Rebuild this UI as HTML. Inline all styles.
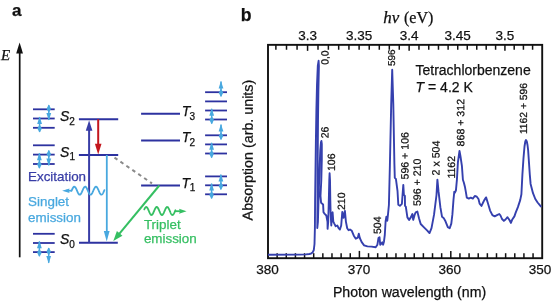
<!DOCTYPE html><html><head><meta charset="utf-8"><style>html,body{margin:0;padding:0;background:#fff;}svg{display:block;will-change:transform;}text{font-family:"Liberation Sans",sans-serif;}.sf{font-family:"Liberation Serif",serif;}</style></head><body>
<svg width="553" height="302" viewBox="0 0 553 302">
<rect width="553" height="302" fill="#fff"/>
<text x="12" y="15.5" font-size="17" font-weight="bold" fill="#111" stroke="#111" stroke-width="0.25">a</text>
<text x="240.8" y="20.6" font-size="17.6" font-weight="bold" fill="#111" stroke="#111" stroke-width="0.25">b</text>
<line x1="19.7" y1="257.3" x2="19.7" y2="52" stroke="#111" stroke-width="1.7"/>
<polygon points="19.6,42.4 16.2,53.6 23,53.6" fill="#111"/>
<text class="sf" x="1.1" y="60.0" font-size="15" font-style="italic" fill="#111" stroke="#111" stroke-width="0.25">E</text>
<line x1="33" y1="109.3" x2="54.7" y2="109.3" stroke="#2d32a0" stroke-width="1.8"/>
<line x1="33" y1="118.5" x2="54.7" y2="118.5" stroke="#2d32a0" stroke-width="1.8"/>
<line x1="33" y1="127.8" x2="54.7" y2="127.8" stroke="#2d32a0" stroke-width="1.8"/>
<line x1="33" y1="145.3" x2="54.7" y2="145.3" stroke="#2d32a0" stroke-width="1.8"/>
<line x1="33" y1="154.6" x2="54.7" y2="154.6" stroke="#2d32a0" stroke-width="1.8"/>
<line x1="33" y1="164.0" x2="54.7" y2="164.0" stroke="#2d32a0" stroke-width="1.8"/>
<line x1="33" y1="233.8" x2="54.7" y2="233.8" stroke="#2d32a0" stroke-width="1.8"/>
<line x1="33" y1="243.0" x2="54.7" y2="243.0" stroke="#2d32a0" stroke-width="1.8"/>
<line x1="33" y1="252.1" x2="54.7" y2="252.1" stroke="#2d32a0" stroke-width="1.8"/>
<g fill="#48a8df">
<polygon points="48.8,120.60 46.4,113.10 51.199999999999996,113.10"/>
<rect x="48.05" y="105.20" width="1.5" height="14.80"/>
<polygon points="48.8,112.70 51.099999999999994,108.70 48.8,104.60 46.5,108.70"/>
</g>
<g fill="#48a8df">
<polygon points="39.6,116.50 37.2,124.00 42.0,124.00"/>
<rect x="38.85" y="117.10" width="1.5" height="14.80"/>
<polygon points="39.6,124.40 41.9,128.40 39.6,132.50 37.300000000000004,128.40"/>
</g>
<g fill="#48a8df">
<polygon points="39.4,152.70 37.0,160.20 41.8,160.20"/>
<rect x="38.65" y="153.30" width="1.5" height="14.80"/>
<polygon points="39.4,160.60 41.699999999999996,164.60 39.4,168.70 37.1,164.60"/>
</g>
<g fill="#48a8df">
<polygon points="48.8,165.90 46.4,158.40 51.199999999999996,158.40"/>
<rect x="48.05" y="150.50" width="1.5" height="14.80"/>
<polygon points="48.8,158.00 51.099999999999994,154.00 48.8,149.90 46.5,154.00"/>
</g>
<g fill="#48a8df">
<polygon points="39.4,240.80 37.0,248.30 41.8,248.30"/>
<rect x="38.65" y="241.40" width="1.5" height="14.80"/>
<polygon points="39.4,248.70 41.699999999999996,252.70 39.4,256.80 37.1,252.70"/>
</g>
<g fill="#48a8df">
<polygon points="48.7,263.40 46.300000000000004,255.90 51.1,255.90"/>
<rect x="47.95" y="248.00" width="1.5" height="14.80"/>
<polygon points="48.7,255.50 51.0,251.50 48.7,247.40 46.400000000000006,251.50"/>
</g>
<line x1="205.1" y1="92.2" x2="227" y2="92.2" stroke="#2d32a0" stroke-width="1.8"/>
<line x1="205.1" y1="101.4" x2="227" y2="101.4" stroke="#2d32a0" stroke-width="1.8"/>
<line x1="205.1" y1="110.5" x2="227" y2="110.5" stroke="#2d32a0" stroke-width="1.8"/>
<line x1="205.1" y1="119.5" x2="227" y2="119.5" stroke="#2d32a0" stroke-width="1.8"/>
<line x1="205.1" y1="135.3" x2="227" y2="135.3" stroke="#2d32a0" stroke-width="1.8"/>
<line x1="205.1" y1="144.4" x2="227" y2="144.4" stroke="#2d32a0" stroke-width="1.8"/>
<line x1="205.1" y1="153.5" x2="227" y2="153.5" stroke="#2d32a0" stroke-width="1.8"/>
<line x1="205.1" y1="176.4" x2="227" y2="176.4" stroke="#2d32a0" stroke-width="1.8"/>
<line x1="205.1" y1="185.3" x2="227" y2="185.3" stroke="#2d32a0" stroke-width="1.8"/>
<line x1="205.1" y1="194.3" x2="227" y2="194.3" stroke="#2d32a0" stroke-width="1.8"/>
<g fill="#48a8df">
<polygon points="221.0,80.90 218.6,88.40 223.4,88.40"/>
<rect x="220.25" y="81.50" width="1.5" height="14.80"/>
<polygon points="221.0,88.80 223.3,92.80 221.0,96.90 218.7,92.80"/>
</g>
<g fill="#48a8df">
<polygon points="211.7,108.20 209.29999999999998,115.70 214.1,115.70"/>
<rect x="210.95" y="108.80" width="1.5" height="14.80"/>
<polygon points="211.7,116.10 214.0,120.10 211.7,124.20 209.39999999999998,120.10"/>
</g>
<g fill="#48a8df">
<polygon points="221.0,124.00 218.6,131.50 223.4,131.50"/>
<rect x="220.25" y="124.60" width="1.5" height="14.80"/>
<polygon points="221.0,131.90 223.3,135.90 221.0,140.00 218.7,135.90"/>
</g>
<g fill="#48a8df">
<polygon points="211.6,142.20 209.2,149.70 214.0,149.70"/>
<rect x="210.85" y="142.80" width="1.5" height="14.80"/>
<polygon points="211.6,150.10 213.9,154.10 211.6,158.20 209.29999999999998,154.10"/>
</g>
<g fill="#48a8df">
<polygon points="220.9,174.00 218.5,181.50 223.3,181.50"/>
<rect x="220.15" y="174.60" width="1.5" height="14.80"/>
<polygon points="220.9,181.90 223.20000000000002,185.90 220.9,190.00 218.6,185.90"/>
</g>
<g fill="#48a8df">
<polygon points="211.6,183.00 209.2,190.50 214.0,190.50"/>
<rect x="210.85" y="183.60" width="1.5" height="14.80"/>
<polygon points="211.6,190.90 213.9,194.90 211.6,199.00 209.29999999999998,194.90"/>
</g>
<line x1="78.9" y1="119.2" x2="118.2" y2="119.2" stroke="#2d32a0" stroke-width="2"/>
<line x1="78.9" y1="155.0" x2="118.2" y2="155.0" stroke="#2d32a0" stroke-width="2"/>
<line x1="79" y1="242.7" x2="117.8" y2="242.7" stroke="#2d32a0" stroke-width="2"/>
<line x1="141.1" y1="113.8" x2="180" y2="113.8" stroke="#2d32a0" stroke-width="2"/>
<line x1="141.1" y1="140.5" x2="180" y2="140.5" stroke="#2d32a0" stroke-width="2"/>
<line x1="141.1" y1="185.4" x2="180" y2="185.4" stroke="#2d32a0" stroke-width="2"/>
<text x="60.0" y="121.1" font-size="14" font-style="italic" fill="#111" stroke="#111" stroke-width="0.25">S</text>
<text x="69.3" y="124.9" font-size="10" fill="#111" stroke="#111" stroke-width="0.25">2</text>
<text x="60.0" y="156.6" font-size="14" font-style="italic" fill="#111" stroke="#111" stroke-width="0.25">S</text>
<text x="69.6" y="160.4" font-size="10" fill="#111" stroke="#111" stroke-width="0.25">1</text>
<text x="60.0" y="244.1" font-size="14" font-style="italic" fill="#111" stroke="#111" stroke-width="0.25">S</text>
<text x="69.3" y="247.8" font-size="10" fill="#111" stroke="#111" stroke-width="0.25">0</text>
<text x="181.8" y="115.6" font-size="14" font-style="italic" fill="#111" stroke="#111" stroke-width="0.25">T</text>
<text x="189.6" y="119.5" font-size="10" fill="#111" stroke="#111" stroke-width="0.25">3</text>
<text x="181.8" y="142.1" font-size="14" font-style="italic" fill="#111" stroke="#111" stroke-width="0.25">T</text>
<text x="189.6" y="146.0" font-size="10" fill="#111" stroke="#111" stroke-width="0.25">2</text>
<text x="181.6" y="187.6" font-size="14" font-style="italic" fill="#111" stroke="#111" stroke-width="0.25">T</text>
<text x="189.8" y="190.7" font-size="10" fill="#111" stroke="#111" stroke-width="0.25">1</text>
<line x1="89.1" y1="242.7" x2="89.1" y2="128" stroke="#383da6" stroke-width="2"/>
<polygon points="89.1,120.2 85.8,130.8 92.4,130.8" fill="#383da6"/>
<line x1="98.2" y1="119.2" x2="98.2" y2="146" stroke="#c3161d" stroke-width="2"/>
<polygon points="98.2,154.6 94.9,143.8 101.5,143.8" fill="#c3161d"/>
<line x1="106.8" y1="155" x2="106.8" y2="233" stroke="#48a8df" stroke-width="1.8"/>
<polygon points="106.7,241.6 103.8,231 109.6,231" fill="#48a8df"/>
<line x1="114.5" y1="157.6" x2="152" y2="183.4" stroke="#8a8a8a" stroke-width="2" stroke-dasharray="3.6 3.6"/>
<line x1="159.3" y1="185.5" x2="119.04" y2="234.17" stroke="#35bf62" stroke-width="2"/>
<polygon points="113.3,241.1 116.90,231.10 122.45,235.69" fill="#35bf62"/>
<polyline points="71.60,190.70 71.85,190.12 72.10,189.56 72.35,189.01 72.60,188.51 72.85,188.05 73.10,187.64 73.35,187.30 73.60,187.03 73.85,186.84 74.10,186.73 74.35,186.70 74.60,186.76 74.85,186.90 75.11,187.11 75.36,187.41 75.61,187.77 75.86,188.20 76.11,188.67 76.36,189.19 76.61,189.74 76.86,190.31 77.11,190.89 77.36,191.47 77.61,192.03 77.86,192.56 78.11,193.05 78.36,193.49 78.61,193.88 78.86,194.20 79.11,194.44 79.36,194.61 79.61,194.69 79.86,194.69 80.11,194.61 80.36,194.44 80.61,194.20 80.86,193.88 81.11,193.49 81.36,193.05 81.62,192.56 81.87,192.03 82.12,191.47 82.37,190.89 82.62,190.31 82.87,189.74 83.12,189.19 83.37,188.67 83.62,188.20 83.87,187.77 84.12,187.41 84.37,187.11 84.62,186.90 84.87,186.76 85.12,186.70 85.37,186.73 85.62,186.84 85.87,187.03 86.12,187.30 86.37,187.64 86.62,188.05 86.87,188.51 87.12,189.01 87.37,189.56 87.62,190.12 87.87,190.70 88.13,191.28 88.38,191.84 88.63,192.39 88.88,192.89 89.13,193.35 89.38,193.76 89.63,194.10 89.88,194.37 90.13,194.56 90.38,194.67 90.63,194.70 90.88,194.64 91.13,194.50 91.38,194.29 91.63,193.99 91.88,193.63 92.13,193.21 92.38,192.73 92.63,192.21 92.88,191.66 93.13,191.09 93.38,190.51 93.63,189.93 93.88,189.37 94.13,188.84 94.38,188.35 94.64,187.91 94.89,187.52 95.14,187.20 95.39,186.96 95.64,186.79 95.89,186.71 96.14,186.71 96.39,186.79 96.64,186.96 96.89,187.20 97.14,187.52 97.39,187.91 97.64,188.35 97.89,188.84 98.14,189.37 98.39,189.93 98.64,190.51 98.89,191.09 99.14,191.66 99.39,192.21 99.64,192.73 99.89,193.20 100.14,193.63 100.39,193.99 100.64,194.29 100.89,194.50 101.15,194.64 101.40,194.70 101.65,194.67 101.90,194.56 102.15,194.37 102.40,194.10 102.65,193.76 102.90,193.35 103.15,192.89 103.40,192.39 103.65,191.84 103.90,191.28 104.15,190.70 104.40,190.12" fill="none" stroke="#48a8df" stroke-width="1.8" stroke-linecap="round"/>
<line x1="66" y1="190.7" x2="71.8" y2="190.7" stroke="#48a8df" stroke-width="1.8"/>
<polygon points="62.1,190.7 69.6,188.5 68.6,190.7 69.6,192.9" fill="#48a8df"/>
<polyline points="144.30,209.37 144.55,208.84 144.80,208.37 145.05,207.94 145.30,207.59 145.55,207.32 145.80,207.13 146.06,207.02 146.31,207.00 146.56,207.08 146.81,207.24 147.06,207.49 147.31,207.81 147.56,208.21 147.81,208.67 148.06,209.18 148.31,209.74 148.56,210.32 148.81,210.92 149.07,211.51 149.32,212.10 149.57,212.66 149.82,213.19 150.07,213.67 150.32,214.08 150.57,214.43 150.82,214.70 151.07,214.88 151.32,214.98 151.57,214.99 151.82,214.91 152.08,214.74 152.33,214.49 152.58,214.16 152.83,213.76 153.08,213.30 153.33,212.78 153.58,212.23 153.83,211.64 154.08,211.04 154.33,210.45 154.58,209.86 154.83,209.30 155.08,208.78 155.34,208.30 155.59,207.89 155.84,207.55 156.09,207.29 156.34,207.11 156.59,207.01 156.84,207.01 157.09,207.10 157.34,207.27 157.59,207.53 157.84,207.86 158.09,208.27 158.35,208.74 158.60,209.26 158.85,209.81 159.10,210.40 159.35,211.00 159.60,211.59 159.85,212.18 160.10,212.74 160.35,213.26 160.60,213.72 160.85,214.13 161.10,214.47 161.35,214.73 161.61,214.90 161.86,214.99 162.11,214.99 162.36,214.90 162.61,214.72 162.86,214.45 163.11,214.11 163.36,213.70 163.61,213.23 163.86,212.71 164.11,212.15 164.36,211.56 164.62,210.96 164.87,210.37 165.12,209.78 165.37,209.23 165.62,208.71 165.87,208.25 166.12,207.84 166.37,207.51 166.62,207.26 166.87,207.09 167.12,207.01 167.37,207.02 167.62,207.11 167.88,207.30 168.13,207.57 168.38,207.91 168.63,208.33 168.88,208.80 169.13,209.33 169.38,209.89 169.63,210.48 169.88,211.08 170.13,211.67 170.38,212.26 170.63,212.81 170.89,213.32 171.14,213.78 171.39,214.18 171.64,214.51 171.89,214.76 172.14,214.92 172.39,214.99 172.64,214.98 172.89,214.88 173.14,214.68 173.39,214.41 173.64,214.06 173.90,213.64 174.15,213.16 174.40,212.63 174.65,212.07 174.90,211.48 175.15,210.88 175.40,210.29" fill="none" stroke="#35bf62" stroke-width="1.8" stroke-linecap="round"/>
<line x1="175" y1="211.2" x2="181" y2="211.2" stroke="#35bf62" stroke-width="1.8"/>
<polygon points="186.6,211.3 179,208.8 180,211.3 179,213.8" fill="#35bf62"/>
<text x="28" y="181.4" font-size="13.4" fill="#383da6" stroke="#383da6" stroke-width="0.25">Excitation</text>
<text x="28.1" y="206.1" font-size="13.4" fill="#48a8df" stroke="#48a8df" stroke-width="0.25">Singlet</text>
<text x="28.1" y="221.9" font-size="13.4" fill="#48a8df" stroke="#48a8df" stroke-width="0.25">emission</text>
<text x="143.9" y="228.6" font-size="13.4" fill="#35bf62" stroke="#35bf62" stroke-width="0.25">Triplet</text>
<text x="143.9" y="243.1" font-size="13.4" fill="#35bf62" stroke="#35bf62" stroke-width="0.25">emission</text>
<rect x="268" y="44.85" width="274.20000000000005" height="213.35" fill="none" stroke="#111" stroke-width="1.9"/>
<line x1="533.06" y1="258.2" x2="533.06" y2="253.2" stroke="#111" stroke-width="1.5"/>
<line x1="523.92" y1="258.2" x2="523.92" y2="253.2" stroke="#111" stroke-width="1.5"/>
<line x1="514.78" y1="258.2" x2="514.78" y2="253.2" stroke="#111" stroke-width="1.5"/>
<line x1="505.64" y1="258.2" x2="505.64" y2="253.2" stroke="#111" stroke-width="1.5"/>
<line x1="496.50" y1="258.2" x2="496.50" y2="253.2" stroke="#111" stroke-width="1.5"/>
<line x1="487.36" y1="258.2" x2="487.36" y2="253.2" stroke="#111" stroke-width="1.5"/>
<line x1="478.22" y1="258.2" x2="478.22" y2="253.2" stroke="#111" stroke-width="1.5"/>
<line x1="469.08" y1="258.2" x2="469.08" y2="253.2" stroke="#111" stroke-width="1.5"/>
<line x1="459.94" y1="258.2" x2="459.94" y2="253.2" stroke="#111" stroke-width="1.5"/>
<line x1="450.80" y1="258.2" x2="450.80" y2="250.89999999999998" stroke="#111" stroke-width="1.5"/>
<line x1="441.66" y1="258.2" x2="441.66" y2="253.2" stroke="#111" stroke-width="1.5"/>
<line x1="432.52" y1="258.2" x2="432.52" y2="253.2" stroke="#111" stroke-width="1.5"/>
<line x1="423.38" y1="258.2" x2="423.38" y2="253.2" stroke="#111" stroke-width="1.5"/>
<line x1="414.24" y1="258.2" x2="414.24" y2="253.2" stroke="#111" stroke-width="1.5"/>
<line x1="405.10" y1="258.2" x2="405.10" y2="253.2" stroke="#111" stroke-width="1.5"/>
<line x1="395.96" y1="258.2" x2="395.96" y2="253.2" stroke="#111" stroke-width="1.5"/>
<line x1="386.82" y1="258.2" x2="386.82" y2="253.2" stroke="#111" stroke-width="1.5"/>
<line x1="377.68" y1="258.2" x2="377.68" y2="253.2" stroke="#111" stroke-width="1.5"/>
<line x1="368.54" y1="258.2" x2="368.54" y2="253.2" stroke="#111" stroke-width="1.5"/>
<line x1="359.40" y1="258.2" x2="359.40" y2="250.89999999999998" stroke="#111" stroke-width="1.5"/>
<line x1="350.26" y1="258.2" x2="350.26" y2="253.2" stroke="#111" stroke-width="1.5"/>
<line x1="341.12" y1="258.2" x2="341.12" y2="253.2" stroke="#111" stroke-width="1.5"/>
<line x1="331.98" y1="258.2" x2="331.98" y2="253.2" stroke="#111" stroke-width="1.5"/>
<line x1="322.84" y1="258.2" x2="322.84" y2="253.2" stroke="#111" stroke-width="1.5"/>
<line x1="313.70" y1="258.2" x2="313.70" y2="253.2" stroke="#111" stroke-width="1.5"/>
<line x1="304.56" y1="258.2" x2="304.56" y2="253.2" stroke="#111" stroke-width="1.5"/>
<line x1="295.42" y1="258.2" x2="295.42" y2="253.2" stroke="#111" stroke-width="1.5"/>
<line x1="286.28" y1="258.2" x2="286.28" y2="253.2" stroke="#111" stroke-width="1.5"/>
<line x1="277.14" y1="258.2" x2="277.14" y2="253.2" stroke="#111" stroke-width="1.5"/>
<text x="267.60" y="274" font-size="13.5" text-anchor="middle" fill="#111" stroke="#111" stroke-width="0.25">380</text>
<text x="359.00" y="274" font-size="13.5" text-anchor="middle" fill="#111" stroke="#111" stroke-width="0.25">370</text>
<text x="449.70" y="274" font-size="13.5" text-anchor="middle" fill="#111" stroke="#111" stroke-width="0.25">360</text>
<text x="540.10" y="274" font-size="13.5" text-anchor="middle" fill="#111" stroke="#111" stroke-width="0.25">350</text>
<line x1="275.88" y1="44.85" x2="275.88" y2="49.75" stroke="#111" stroke-width="1.5"/>
<line x1="286.51" y1="44.85" x2="286.51" y2="49.75" stroke="#111" stroke-width="1.5"/>
<line x1="297.07" y1="44.85" x2="297.07" y2="49.75" stroke="#111" stroke-width="1.5"/>
<line x1="307.57" y1="44.85" x2="307.57" y2="50.85" stroke="#111" stroke-width="1.5"/>
<line x1="318.00" y1="44.85" x2="318.00" y2="49.75" stroke="#111" stroke-width="1.5"/>
<line x1="328.37" y1="44.85" x2="328.37" y2="49.75" stroke="#111" stroke-width="1.5"/>
<line x1="338.68" y1="44.85" x2="338.68" y2="49.75" stroke="#111" stroke-width="1.5"/>
<line x1="348.93" y1="44.85" x2="348.93" y2="49.75" stroke="#111" stroke-width="1.5"/>
<line x1="359.11" y1="44.85" x2="359.11" y2="49.75" stroke="#111" stroke-width="1.5"/>
<line x1="369.24" y1="44.85" x2="369.24" y2="49.75" stroke="#111" stroke-width="1.5"/>
<line x1="379.30" y1="44.85" x2="379.30" y2="49.75" stroke="#111" stroke-width="1.5"/>
<line x1="389.31" y1="44.85" x2="389.31" y2="49.75" stroke="#111" stroke-width="1.5"/>
<line x1="399.26" y1="44.85" x2="399.26" y2="49.75" stroke="#111" stroke-width="1.5"/>
<line x1="409.14" y1="44.85" x2="409.14" y2="50.85" stroke="#111" stroke-width="1.5"/>
<line x1="418.97" y1="44.85" x2="418.97" y2="49.75" stroke="#111" stroke-width="1.5"/>
<line x1="428.75" y1="44.85" x2="428.75" y2="49.75" stroke="#111" stroke-width="1.5"/>
<line x1="438.46" y1="44.85" x2="438.46" y2="49.75" stroke="#111" stroke-width="1.5"/>
<line x1="448.12" y1="44.85" x2="448.12" y2="49.75" stroke="#111" stroke-width="1.5"/>
<line x1="457.72" y1="44.85" x2="457.72" y2="49.75" stroke="#111" stroke-width="1.5"/>
<line x1="467.27" y1="44.85" x2="467.27" y2="49.75" stroke="#111" stroke-width="1.5"/>
<line x1="476.76" y1="44.85" x2="476.76" y2="49.75" stroke="#111" stroke-width="1.5"/>
<line x1="486.20" y1="44.85" x2="486.20" y2="49.75" stroke="#111" stroke-width="1.5"/>
<line x1="495.59" y1="44.85" x2="495.59" y2="49.75" stroke="#111" stroke-width="1.5"/>
<line x1="504.92" y1="44.85" x2="504.92" y2="50.85" stroke="#111" stroke-width="1.5"/>
<line x1="514.19" y1="44.85" x2="514.19" y2="49.75" stroke="#111" stroke-width="1.5"/>
<line x1="523.42" y1="44.85" x2="523.42" y2="49.75" stroke="#111" stroke-width="1.5"/>
<line x1="532.59" y1="44.85" x2="532.59" y2="49.75" stroke="#111" stroke-width="1.5"/>
<text x="307.57" y="40.4" font-size="13.5" text-anchor="middle" fill="#111" stroke="#111" stroke-width="0.25">3.3</text>
<text x="359.11" y="40.4" font-size="13.5" text-anchor="middle" fill="#111" stroke="#111" stroke-width="0.25">3.35</text>
<text x="409.14" y="40.4" font-size="13.5" text-anchor="middle" fill="#111" stroke="#111" stroke-width="0.25">3.4</text>
<text x="457.72" y="40.4" font-size="13.5" text-anchor="middle" fill="#111" stroke="#111" stroke-width="0.25">3.45</text>
<text x="504.92" y="40.4" font-size="13.5" text-anchor="middle" fill="#111" stroke="#111" stroke-width="0.25">3.5</text>
<text class="sf" x="383.2" y="23.2" font-size="16" font-style="italic" fill="#111" stroke="#111" stroke-width="0.25" textLength="16" lengthAdjust="spacingAndGlyphs">hν</text>
<text class="sf" x="404.0" y="23.2" font-size="16" fill="#111" stroke="#111" stroke-width="0.25">(eV)</text>
<text x="332.9" y="297.3" font-size="14.15" fill="#111" stroke="#111" stroke-width="0.25">Photon wavelength (nm)</text>
<text transform="translate(252.6,220.4) rotate(-89.95)" font-size="14.3" fill="#111" stroke="#111" stroke-width="0.25">Absorption (arb. units)</text>
<text x="415.5" y="74.5" font-size="14" fill="#111" stroke="#111" stroke-width="0.25">Tetrachlorbenzene</text>
<text x="415.6" y="91.5" font-size="14" fill="#111" stroke="#111" stroke-width="0.25"><tspan font-style="italic">T</tspan> = 4.2 K</text>
<polyline points="268,254.7 300,254.6 306,254.4 309.5,254 311.5,253.3 312.8,252.2 313.8,250 314.5,244 314.9,228 315.1,200 315.5,170 315.9,140 316.4,110 317,85 317.8,66 318.6,60.8 318.9,66 318.4,90 318,120 317.7,160 317.5,200 317.3,228 317.9,222 318.4,205 319,185 319.7,165 320.3,150 321,142 321.4,141 321.8,144 321.8,160 321.3,180 320.5,196 321.1,202.8 323.1,204.4 323.5,212.3 324.7,213.9 326.3,215.5 327.5,221.8 327.6,228.8 328.2,222 328.7,205 329.3,180 329.6,173.3 330,180 330.3,200 330.6,212.3 331.3,225.5 332,213.6 332.6,212.3 333.3,221.6 334.3,223.6 335.7,226.2 337.3,225.5 338.6,228.2 339.9,229.5 341.2,225.5 341.8,218 342.3,211.9 343.5,217.8 344.9,210.9 345.9,221.6 347.2,228.2 348.6,230.2 350,229.5 351.8,230.8 353.8,235.7 355.8,238.7 357.8,237.7 358.8,233.7 359.8,238 361.7,242.2 364.1,245.3 367.4,246.4 371.6,246.6 375.7,247.2 377.4,244.7 378.5,238 379.5,237.2 380.2,244.7 381.2,243.8 382.3,242.2 383.1,244.7 384,241.4 384.8,234.8 385.6,221.5 386.4,216.6 387.3,220.7 388.1,213.3 388.9,205 389.9,165 391.2,104 392.2,69.8 393.3,104 394.4,164 394.8,177.9 395.9,178.9 397.5,190.8 398.3,204.8 399.9,205.8 401.9,203.8 403.3,184.9 403.9,194.8 404.9,195.8 405,205.8 405.8,206.6 407.4,217.4 409.1,219.9 410.8,217.4 412.4,214 413.2,219.9 414.6,214.9 415.7,212.4 417.4,211.6 419,218.2 420.7,224 424,227.3 427.3,230.6 429.5,233.1 431.5,228.1 434,214.9 436.5,195 437.4,179.6 438.5,191.2 440.4,207.4 442,216.7 443.6,217.9 445.5,221.3 447.8,227.1 449.7,228.3 451.3,223.6 452.4,214.4 453.5,199.6 454.3,191.7 454.9,192.7 455.9,190.7 456.9,179.8 457.9,162.5 459.5,151 460.5,156.5 461.9,165.8 462.9,179.8 463.9,182.7 464.9,186.7 465.8,191.7 466.8,197.7 468.8,198.6 470.8,197.7 472.8,198.6 474.8,196 476.8,196.7 478.5,199 479.6,203.6 481.5,205.9 483.1,202.5 484.3,200.1 486.1,197.4 487.7,202.5 490.1,210.6 492.4,215.2 494.7,216.4 497,215.2 499.3,214 500.5,215.5 502,219 503.9,220.9 505.5,219.5 507.5,217.2 509.3,219.8 510.9,222.9 512.1,219.8 514.4,216.4 515.6,212.9 517.9,207.1 520.2,200.1 521.4,194.3 522.4,174.6 523.5,158 524.5,146.5 525.3,141.5 526,140 526.8,141.5 527.5,145 528.1,149.8 529.8,174.6 530.6,183.9 533,193.2 535.3,199 537.6,202.5 540.4,205.9 541.3,207" fill="none" stroke="#3540ae" stroke-width="1.9" stroke-linejoin="round"/>
<text transform="translate(328.6,64.8) rotate(-89.95)" font-size="10.4" fill="#111" stroke="#111" stroke-width="0.25">0,0</text>
<text transform="translate(328.5,138.3) rotate(-89.95)" font-size="10.5" fill="#111" stroke="#111" stroke-width="0.25">26</text>
<text transform="translate(335.1,171.0) rotate(-89.95)" font-size="10.5" fill="#111" stroke="#111" stroke-width="0.25">106</text>
<text transform="translate(345.1,210.0) rotate(-89.95)" font-size="10.5" fill="#111" stroke="#111" stroke-width="0.25">210</text>
<text transform="translate(380.9,234.0) rotate(-89.95)" font-size="10.5" fill="#111" stroke="#111" stroke-width="0.25">504</text>
<text transform="translate(395.0,66.0) rotate(-89.95)" font-size="10.0" fill="#111" stroke="#111" stroke-width="0.25">596</text>
<text transform="translate(408.5,179.5) rotate(-89.95)" font-size="10.6" fill="#111" stroke="#111" stroke-width="0.25">596 + 106</text>
<text transform="translate(420.8,206.1) rotate(-89.95)" font-size="10.6" fill="#111" stroke="#111" stroke-width="0.25">596 + 210</text>
<text transform="translate(439.6,175.4) rotate(-89.95)" font-size="10.6" fill="#111" stroke="#111" stroke-width="0.25">2 x 504</text>
<text transform="translate(455.1,178.6) rotate(-89.95)" font-size="10.5" fill="#111" stroke="#111" stroke-width="0.25">1162</text>
<text transform="translate(464.3,146.4) rotate(-89.95)" font-size="10.6" fill="#111" stroke="#111" stroke-width="0.25">868 + 312</text>
<text transform="translate(527.0,134.1) rotate(-89.95)" font-size="10.3" fill="#111" stroke="#111" stroke-width="0.25">1162 + 596</text>
</svg></body></html>
